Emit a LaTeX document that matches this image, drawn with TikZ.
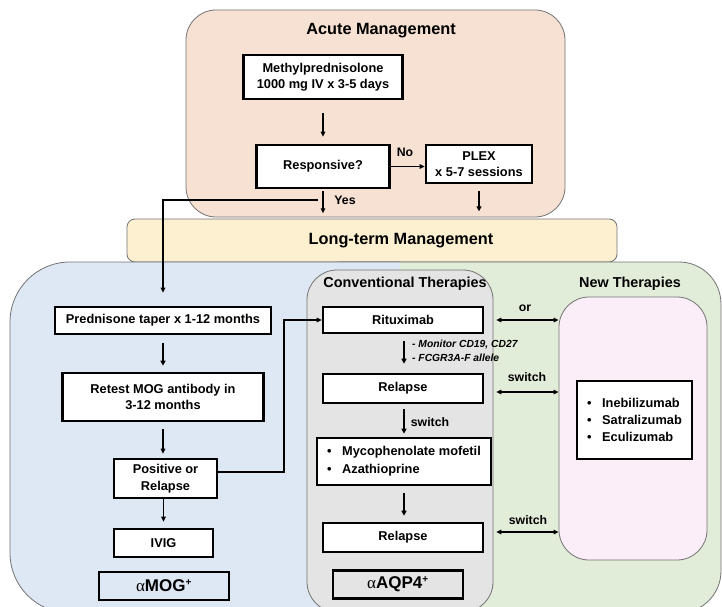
\documentclass[tikz,border=0pt]{standalone}
\usepackage{fontspec}
\setmainfont{Liberation Sans}
\newfontfamily\grk{Liberation Serif}
\usetikzlibrary{arrows.meta,calc}
\definecolor{peach}{RGB}{246,225,211}
\definecolor{ltyellow}{RGB}{252,240,208}
\definecolor{ltblue}{RGB}{222,232,244}
\definecolor{ltgrey}{RGB}{228,228,228}
\definecolor{ltgreen}{RGB}{226,237,217}
\definecolor{ltpink}{RGB}{252,238,248}
\begin{document}
\begin{tikzpicture}[x=1pt,y=-1pt,
  cont/.style={draw=black!55, line width=0.8pt},
  box/.style={draw=black, line width=2.6pt, fill=white, inner sep=0pt, align=center,
    font=\bfseries\fontsize{12.8}{16.5}\selectfont},
  ttl/.style={font=\bfseries\fontsize{16.3}{19}\selectfont, inner sep=0pt},
  subttl/.style={font=\bfseries\fontsize{14.4}{17}\selectfont, inner sep=0pt},
  lab/.style={font=\bfseries\fontsize{12.3}{14}\selectfont, inner sep=0pt},
  note/.style={font=\bfseries\itshape\fontsize{10.3}{13}\selectfont, inner sep=0pt, anchor=west},
  arrthin/.style={line width=1.2pt, -{Triangle[length=5pt,width=4.5pt]}},
  arrbold/.style={line width=2pt, -{Triangle[length=5pt,width=5pt]}},
  dblarr/.style={line width=1.5pt, {Triangle[length=5pt,width=4.5pt]}-{Triangle[length=5pt,width=4.5pt]}},
  tagbox/.style={draw=black, line width=2.3pt, inner sep=0pt, minimum width=130, minimum height=28,
    font=\bfseries\fontsize{17}{20}\selectfont}
]
\useasboundingbox (0,0) rectangle (722,607);

% containers
\draw[cont, fill=peach, rounded corners=30] (186,10) rectangle (565,217);
\draw[cont, fill=ltyellow, rounded corners=8] (127,219) rectangle (617,262);
\draw[cont, fill=ltgreen, rounded corners=42] (300,262) rectangle (721,613);
\begin{scope}
  \clip (0,0) rectangle (400,620);
  \draw[cont, fill=ltblue, rounded corners=60] (10,262) rectangle (460,613);
\end{scope}
\draw[cont, fill=ltgrey, rounded corners=30] (307,270) rectangle (493,612);
\node[cont, fill=ltpink, rounded corners=30, minimum width=148, minimum height=263, inner sep=0pt] (pink) at (633,428.5) {};

% titles
\node[ttl] (tacute) at (381,31) {Acute Management};
\node[ttl] (tlong) at (401,241) {Long-term Management};
\node[subttl] (tconv) at (405,284) {Conventional Therapies};
\node[subttl] (tnew) at (630,284) {New Therapies};

% acute
\node[box, minimum width=159, minimum height=44] (meth) at (323,77) {Methylprednisolone\\1000 mg IV x 3-5 days};
\node[box, minimum width=133, minimum height=43] (resp) at (323,166.5) {Responsive?};
\node[box, minimum width=106, minimum height=38] (plex) at (479,164) {PLEX\\x 5-7 sessions};

% MOG column
\node[box, minimum width=216, minimum height=27] (pred) at (163,320.5) {Prednisone taper x 1-12 months};
\node[box, minimum width=201, minimum height=48] (retest) at (163,397) {Retest MOG antibody in\\3-12 months};
\node[box, minimum width=103, minimum height=39] (pos) at (165.5,478.5) {Positive or\\Relapse};
\node[box, minimum width=99, minimum height=28] (ivig) at (163.5,543) {IVIG};
\node[tagbox] (amog) at (164,586) {{\grk\mdseries α}MOG\textsuperscript{\fontsize{10}{10}\selectfont +}};

% AQP4 column
\node[box, minimum width=160, minimum height=26] (ritux) at (403,320) {Rituximab};
\node[box, minimum width=160, minimum height=29] (rel1) at (403,388.5) {Relapse};
\node[box, minimum width=174, minimum height=47, align=left] (myco) at (404,461.5)
  {\makebox[15pt][l]{•}Mycophenolate mofetil\\[1.5pt]\makebox[15pt][l]{•}Azathioprine};
\node[box, minimum width=160, minimum height=29] (rel2) at (403,537.5) {Relapse};
\node[tagbox] (aaqp) at (398,584.5) {{\grk\mdseries α}AQP4\textsuperscript{\fontsize{10}{10}\selectfont +}};

% new therapies
\node[box, minimum width=115, minimum height=78, align=left] (newt) at (634.5,420)
  {\makebox[15pt][l]{•}Inebilizumab\\[0.5pt]\makebox[15pt][l]{•}Satralizumab\\[0.5pt]\makebox[15pt][l]{•}Eculizumab};

% connectors acute
\draw[arrthin] ([yshift=-13pt]meth.south) -- ([yshift=7pt]meth.south |- resp.north);
\draw[arrthin] (resp.east) -- (plex.west |- resp.east);
\node[lab] (lno) at (405,152) {No};
\draw[arrthin] ([yshift=-2pt]resp.south) -- ++(0,22);
\node[lab] (lyes) at (345,200) {Yes};
\draw[arrbold] ([yshift=-7pt]plex.south) -- ++(0,20);
\coordinate (yj) at (318,200);
\draw[arrthin, shorten >=13pt] (yj) -| (pred.north);

% MOG connectors
\draw[arrbold] ([yshift=-8pt]pred.south) -- ([yshift=6pt]pred.south |- retest.north);
\draw[arrthin, line width=1.6pt] ([yshift=-7pt]retest.south) -- ([yshift=4pt]retest.south |- pos.north);
\draw[arrthin, line width=1.6pt] (pos.south -| ivig.north) -- ([yshift=6pt]ivig.north);
\coordinate (pr) at (284,472);
\draw[arrthin, line width=1.6pt] (pos.east |- pr) -- (pr) |- (ritux.west);

% AQP4 connectors
\draw[arrbold] ([xshift=1pt,yshift=-7pt]ritux.south) -- ([xshift=1pt,yshift=9pt]rel1.north);
\node[note] (n1) at (412,345) {- Monitor CD19, CD27};
\node[note] (n2) at (412,358) {- FCGR3A-F allele};
\draw[arrbold] ([xshift=1pt,yshift=-5pt]rel1.south) -- ([xshift=1pt,yshift=3pt]rel1.south |- myco.north);
\node[lab] (lsw0) at (430,422) {switch};
\draw[arrbold] ([xshift=1pt,yshift=-7pt]rel1.south |- myco.south) -- ([xshift=1pt,yshift=6pt]rel2.north);

% double arrows
\draw[dblarr] ([xshift=12pt]ritux.east) -- (ritux.east -| pink.west);
\node[lab] (lor) at (525,308) {or};
\draw[dblarr] ([xshift=12pt,yshift=-3.5pt]rel1.east) -- ([yshift=-3.5pt]rel1.east -| pink.west);
\node[lab] (lsw1) at (527,377) {switch};
\draw[dblarr] ([xshift=12pt,yshift=5.5pt]rel2.east) -- ([yshift=5.5pt]rel2.east -| pink.west);
\node[lab] (lsw2) at (528,520) {switch};
\end{tikzpicture}
\end{document}
